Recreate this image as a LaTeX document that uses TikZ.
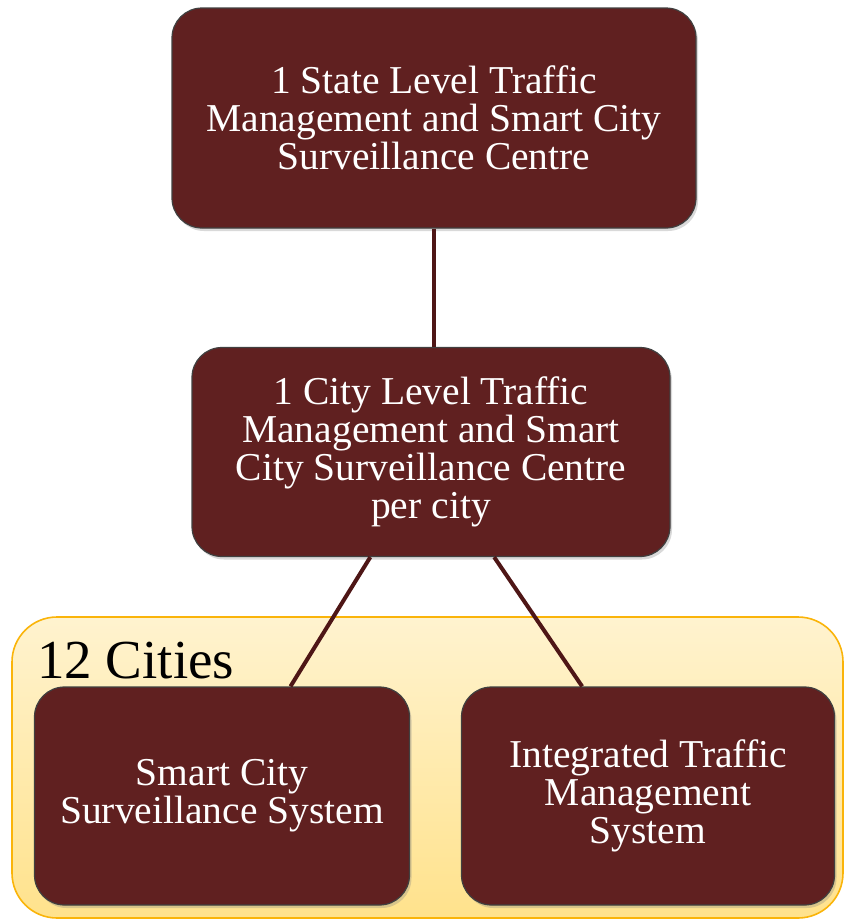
\documentclass[tikz,border=0pt]{standalone}
\usepackage{fontspec}
\setmainfont{Liberation Serif}
\usetikzlibrary{positioning,shadows}
\definecolor{boxred}{RGB}{96,32,32}
\definecolor{linkred}{RGB}{78,22,22}
\definecolor{cityfill}{RGB}{255,243,207}
\definecolor{cityfilldark}{RGB}{255,226,140}
\definecolor{cityedge}{RGB}{250,180,10}
\tikzset{
  centrebox/.style={draw=black!75,line width=1.2pt,fill=boxred,rounded corners=30pt,
    text=white,align=center,inner sep=0pt,font=\fontsize{39.5}{38}\selectfont,
    drop shadow={opacity=.3,shadow xshift=2pt,shadow yshift=-3pt}},
  link/.style={draw=linkred,line width=4pt}
}
\begin{document}
\begin{tikzpicture}[x=1pt,y=-1pt]
\useasboundingbox (0,0) rectangle (846,921);
% group of cities
\draw[cityedge,line width=1.6pt,top color=cityfill,bottom color=cityfilldark,
  rounded corners=45pt] (12,617) rectangle (843,918);
\node[anchor=base west,inner sep=0pt,font=\fontsize{55}{55}\selectfont] (cities) at (37,678) {12 Cities};
% centres
\node[centrebox,minimum width=524pt,minimum height=220pt] (state) at (434,118)
  {1 State Level Traffic\\Management and Smart City\\Surveillance Centre};
\node[centrebox,minimum width=478pt,minimum height=209pt] (city) at (431,452)
  {1 City Level Traffic\\Management and Smart\\City Surveillance Centre\\per city};
\node[centrebox,minimum width=375pt,minimum height=218pt] (scss) at (222,796)
  {Smart City\\Surveillance System};
\node[centrebox,minimum width=373pt,minimum height=218pt] (itms) at (648,796)
  {Integrated Traffic\\Management\\System};
% links
\draw[link] (state.south) -- (state.south |- city.north);
\draw[link] (city.240) -- (scss.58);
\draw[link] (city.301) -- (itms.121);
\end{tikzpicture}
\end{document}
